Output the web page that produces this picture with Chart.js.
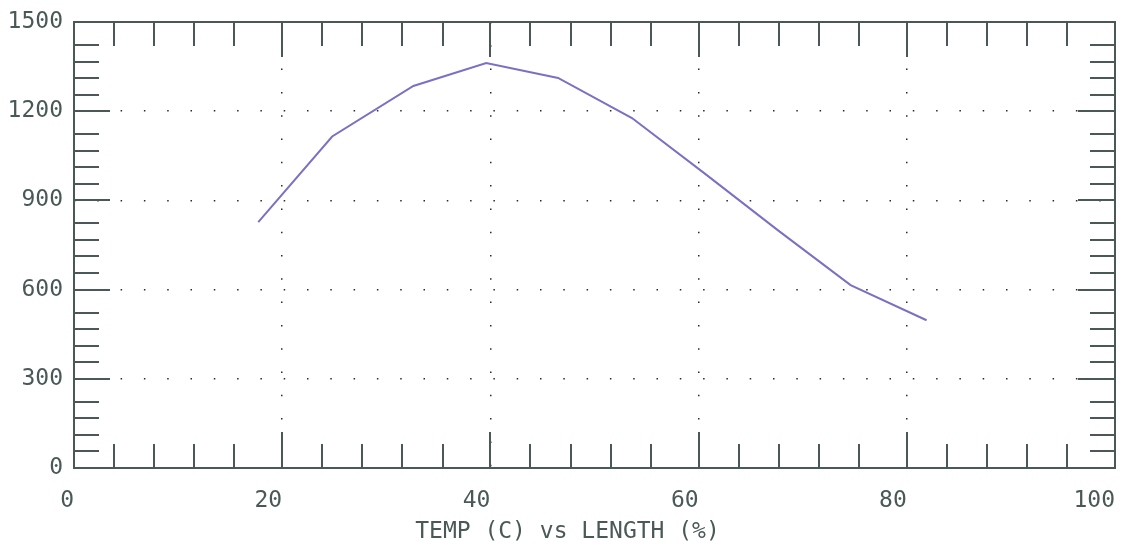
<!DOCTYPE html>
<html>
<head>
<meta charset="utf-8">
<script src="https://cdn.jsdelivr.net/npm/chart.js@4/dist/chart.umd.min.js"></script>
<style>
  html, body { margin: 0; padding: 0; background: #fff; }
  #wrap { width: 1127px; height: 548px; }
</style>
</head>
<body>
<div id="wrap"><canvas id="c" width="1127" height="548"></canvas></div>
<script>
// curve
const temps   = [17.7, 24.8, 32.6, 39.6, 46.5, 53.6, 60.6, 67.6, 74.6, 81.9];
const lengths = [827, 1115, 1285, 1362, 1312, 1177, 990, 800, 615, 497];

// axis setup
const xTicks = [0, 20, 40, 60, 80, 100];
const yTicks = [0, 300, 600, 900, 1200, 1500];
const xMinorStep = 3.85;   // minor marks after each major
const yMinorStep = 55.7;
const titleText = 'TEMP (C) vs LENGTH (%)';

const ink = '#4a5858';
const font = { family: '"DejaVu Sans Mono", monospace', size: 23 };

// box + inward tick marks on all four sides
const frame = {
    id: 'frame',
    afterDatasetsDraw(chart) {
        const { ctx, chartArea: a, scales: { x, y } } = chart;
        ctx.save();
        ctx.strokeStyle = ink;
        ctx.lineWidth = 2;
        ctx.strokeRect(a.left, a.top, a.right - a.left, a.bottom - a.top);
        ctx.beginPath();
        xTicks.forEach((v, i) => {
            if (i > 0 && i < xTicks.length - 1) {
                const px = Math.round(x.getPixelForValue(v));
                ctx.moveTo(px, a.bottom); ctx.lineTo(px, a.bottom - 36);
                ctx.moveTo(px, a.top); ctx.lineTo(px, a.top + 35);
            }
            if (i < xTicks.length - 1) {
                for (let k = 1; k <= 4; k++) {
                    const px = Math.round(x.getPixelForValue(v + k * xMinorStep));
                    ctx.moveTo(px, a.bottom); ctx.lineTo(px, a.bottom - 24);
                    ctx.moveTo(px, a.top); ctx.lineTo(px, a.top + 24);
                }
            }
        });
        yTicks.forEach((v, i) => {
            if (i > 0 && i < yTicks.length - 1) {
                const py = Math.round(y.getPixelForValue(v));
                ctx.moveTo(a.left, py); ctx.lineTo(a.left + 36, py);
                ctx.moveTo(a.right, py); ctx.lineTo(a.right - 37, py);
            }
            if (i < yTicks.length - 1) {
                for (let k = 1; k <= 4; k++) {
                    const py = Math.round(y.getPixelForValue(v + k * yMinorStep));
                    ctx.moveTo(a.left, py); ctx.lineTo(a.left + 25, py);
                    ctx.moveTo(a.right, py); ctx.lineTo(a.right - 25, py);
                }
            }
        });
        ctx.stroke();

        // axis caption, sits a little left of centre in the original
        ctx.fillStyle = ink;
        ctx.font = font.size + 'px ' + font.family;
        ctx.textAlign = 'center';
        ctx.textBaseline = 'middle';
        ctx.fillText(titleText, (a.left + a.right) / 2 - 27, 532);
        ctx.restore();
    }
};

const dotted = (ctx) => {
    const v = ctx.tick && ctx.tick.value;
    return (v === undefined || v === ctx.scale.min || v === ctx.scale.max) ? 'rgba(0,0,0,0)' : '#2a2a2a';
};

new Chart(document.getElementById('c'), {
    type: 'line',
    data: {
        datasets: [{
            data: temps.map((t, i) => ({ x: t, y: lengths[i] })),
            borderColor: '#7b70c2',
            borderWidth: 2,
            tension: 0,
            pointRadius: 0,
            fill: false
        }]
    },
    options: {
        responsive: false,
        animation: false,
        layout: { padding: { left: 0, top: 22, right: 12, bottom: 0 } },
        plugins: { legend: { display: false }, tooltip: { enabled: false } },
        scales: {
            x: {
                type: 'linear',
                min: 0, max: 100,
                afterBuildTicks: (s) => { s.ticks = xTicks.map(v => ({ value: v })); },
                afterFit: (s) => { s.height = 80; s.paddingLeft = 0; s.paddingRight = 0; },
                grid: { color: dotted, lineWidth: 1.5, drawTicks: false },
                border: { display: false, dash: [1.5, 21.8] },
                ticks: { color: ink, font, padding: 19, align: 'end', maxRotation: 0,
                         callback: (v) => String(v) }
            },
            y: {
                min: 0, max: 1500,
                afterBuildTicks: (s) => { s.ticks = yTicks.map(v => ({ value: v })); },
                afterFit: (s) => { s.width = 74; s.paddingTop = 0; s.paddingBottom = 0; },
                grid: { color: dotted, lineWidth: 1.5, drawTicks: false },
                border: { display: false, dash: [1.5, 21.8] },
                ticks: { color: ink, font, padding: 11, callback: (v) => String(v) }
            }
        }
    },
    plugins: [frame]
});
</script>
</body>
</html>
